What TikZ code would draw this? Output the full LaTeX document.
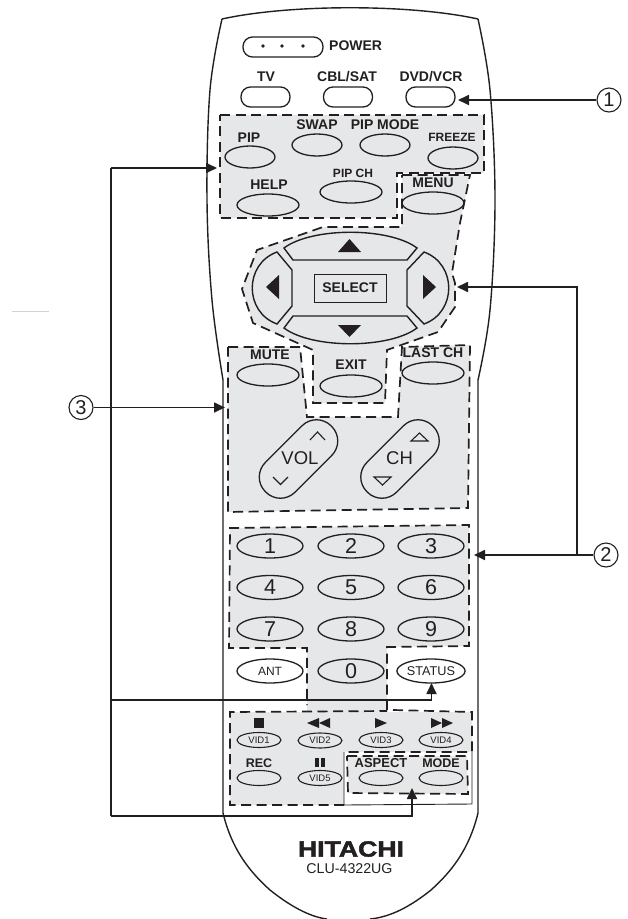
\documentclass[tikz,border=0pt]{standalone}
\usepackage{fontspec}
\setmainfont{Liberation Sans}
\usetikzlibrary{shapes.geometric,arrows.meta}
\definecolor{ink}{HTML}{231F20}
\definecolor{panel}{HTML}{E6E7E8}
\newcommand{\fs}[1]{\fontsize{#1}{#1}\selectfont}
\tikzset{
  line/.style={draw=ink,line width=1.4pt},
  zone/.style={fill=panel,draw=none},
  dash line/.style={draw=ink,line width=1.7pt,dash pattern=on 10pt off 5.5pt},
  btn/.style={ellipse,draw=ink,line width=1.3pt,minimum width=62pt,minimum height=22pt,inner sep=0pt,text=ink},
  small btn/.style={btn,minimum width=50pt,minimum height=22pt},
  num btn/.style={btn,minimum width=66pt,minimum height=24pt,font=\fs{21.5}},
  vid btn/.style={btn,line width=1.1pt,minimum width=44pt,minimum height=15pt,font=\fs{9.5}},
  key/.style={draw=ink,line width=1.3pt,rounded corners=9.5pt,minimum width=49pt,minimum height=20pt,inner sep=0pt},
  lab/.style={font=\fs{14}\bfseries,text=ink,inner sep=0pt},
  lab small/.style={font=\fs{12.5}\bfseries,text=ink,inner sep=0pt},
  rocker/.style={draw=ink,line width=1.3pt,rounded corners=20.5pt,minimum width=93pt,minimum height=42pt,inner sep=0pt,rotate=45},
  big/.style={font=\fs{18.5},text=ink,inner sep=0pt},
  solid mark/.style={fill=ink,draw=none},
  callout/.style={circle,draw=ink,line width=1.1pt,minimum size=24pt,inner sep=0pt,font=\fs{20},text=ink},
  arr/.style={draw=ink,line width=1.7pt,-{Triangle[length=11pt,width=10pt]}},
  wire/.style={draw=ink,line width=1.7pt},
}
\begin{document}
\begin{tikzpicture}[x=1pt,y=-1pt]
\useasboundingbox (0,0) rectangle (627,919);
% faint mark
\draw[gray!35,line width=0.6pt] (12,311) -- (49,311);
% remote body
\draw[line] (222,19) .. controls (290,4) and (410,4) .. (478,19);
\draw[line] plot[smooth,tension=0.6] coordinates {(222,19)(210,90)(207,200)(212,300)(223,380)};
\draw[line] plot[smooth,tension=0.6] coordinates {(478,19)(490,90)(495,200)(490,310)(478,380)};
\draw[line] (223,380) -- (223,813) .. controls (232,850) and (250,872) .. (270,890) .. controls (290,906) and (310,917) .. (327,919);
\draw[line] (478,380) -- (478,813) .. controls (469,850) and (451,872) .. (431,890) .. controls (411,906) and (391,917) .. (370,919);
% gray zones
\path[zone] (220,115) -- (484,115) -- (484,173) -- (397,173) -- (397,218) -- (220,218) -- cycle;
\path[zone] (402,175) -- (470,175) -- (460,223) -- (452,273) -- (455,283) -- (455,307) -- (438,332) -- (387,350) -- (385,403) -- (313,403) -- (313,350) -- (253,323) -- (242,289) -- (257,250) -- (323,227) -- (402,227) -- cycle;
\path[zone] (228,347) -- (300,347) -- (307,417) -- (398,417) -- (402,347) -- (470,345) -- (468,508) -- (228,512) -- cycle;
\path[zone] (230,528) -- (469,525) -- (469,646) -- (387,647) -- (387,712) -- (472,712) -- (472,752) -- (344,752) -- (344,805) -- (230,805) -- (230,712) -- (307,712) -- (307,648) -- (229,648) -- cycle;
\path[zone] (347,756) -- (467,756) -- (468,794) -- (348,793) -- cycle;
% dashed outlines
\draw[dash line] (220,115) -- (484,115) -- (484,173) -- (397,173) -- (397,218) -- (220,218) -- cycle;
\draw[dash line] (402,175) -- (470,175) -- (460,223) -- (452,273) -- (455,283) -- (455,307) -- (438,332) -- (387,350) -- (385,403) -- (313,403) -- (313,350) -- (253,323) -- (242,289) -- (257,250) -- (323,227) -- (402,227) -- cycle;
\draw[dash line] (228,347) -- (300,347) -- (307,417) -- (398,417) -- (402,347) -- (470,345) -- (468,508) -- (228,512) -- cycle;
\draw[dash line] (387,710) -- (387,647) -- (469,646) -- (469,525) -- (230,528) -- (229,648) -- (307,648) -- (307,705);
\draw[dash line] (393,710) -- (472,712) -- (472,752) -- (344,752);
\draw[dash line] (344,805) -- (230,805) -- (230,712) -- (387,711);
\draw[dash line] (347,756) -- (467,756) -- (468,794) -- (348,793) -- cycle;
\draw[draw=ink,line width=0.9pt] (344,752) -- (344,805) -- (472,804) -- (472,752);
% power and source keys
\node[key,minimum width=80pt] (power) at (283,47) {};
\foreach \i/\x in {1/263,2/282,3/303} \fill[ink] (\x,46) circle (1.9pt);
\node[lab,anchor=west] (powerlab) at (329,46) {POWER};
\node[key] (tv) at (265.5,97) {};
\node[key] (cbl) at (348,97) {};
\node[key] (dvd) at (430.5,97) {};
\node[lab] (tvlab) at (266,77) {TV};
\node[lab] (cbllab) at (347,77) {CBL/SAT};
\node[lab] (dvdlab) at (431,77) {DVD/VCR};
% PIP group
\node[small btn] (pip) at (250,157) {};
\node[small btn] (swap) at (317,145) {};
\node[small btn] (pipmode) at (385,145) {};
\node[small btn] (freeze) at (453,158) {};
\node[btn] (help) at (268,205) {};
\node[btn] (pipch) at (351,192) {};
\node[btn] (menu) at (433,203) {};
\node[lab] (piplab) at (249,138) {PIP};
\node[lab] (swaplab) at (317,125) {SWAP};
\node[lab] (pipmodelab) at (385,125) {PIP MODE};
\node[lab small,font=\fs{12}\bfseries] (freezelab) at (452,137) {FREEZE};
\node[lab] (helplab) at (269,185) {HELP};
\node[lab small,font=\fs{12}\bfseries] (pipchlab) at (353,173) {PIP CH};
\node[lab] (menulab) at (433,183) {MENU};
% D-pad
\draw[line] (284,248) .. controls (312,227) and (389,227) .. (417,248) -- (407,260) -- (293,260) -- cycle;
\draw[line] (284,328) .. controls (312,349) and (389,349) .. (417,328) -- (407,316) -- (293,316) -- cycle;
\draw[line] (277,252) .. controls (244,264) and (244,312) .. (277,324) -- (292,306) -- (292,270) -- cycle;
\draw[line] (424,252) .. controls (457,264) and (457,312) .. (424,324) -- (407,306) -- (407,270) -- cycle;
\fill[solid mark] (349.5,239) -- (338,252) -- (361,252) -- cycle;
\fill[solid mark] (338,325) -- (361,325) -- (349.5,337) -- cycle;
\fill[solid mark] (279,275) -- (266,287) -- (279,299) -- cycle;
\fill[solid mark] (423,275) -- (436,287) -- (423,299) -- cycle;
\node[lab,draw=ink,line width=1pt,minimum width=72pt,minimum height=28pt] (select) at (350,288) {SELECT};
% mute, exit, last
\node[btn] (mute) at (268,375) {};
\node[btn] (exit) at (351,386) {};
\node[btn] (last) at (433,373) {};
\node[lab] (mutelab) at (270,355) {MUTE};
\node[lab] (exitlab) at (351,365) {EXIT};
\node[lab] (lastlab) at (433,353) {LAST CH};
% rockers
\node[rocker] (vol) at (298.5,459) {};
\node[rocker] (ch) at (400,459) {};
\node[big] (vollab) at (300,458) {VOL};
\node[big] (chlab) at (399.5,458) {CH};
\draw[line,line width=1.1pt] (310,440) -- (317.5,432) -- (325,440);
\draw[line,line width=1.1pt] (273,477) -- (280.5,484.5) -- (288,477);
\draw[line,line width=1.1pt] (411,441) -- (419.5,433) -- (428,441) -- cycle;
\draw[line,line width=1.1pt] (374,477) -- (382.5,485) -- (391,477) -- cycle;
% number pad
\node[num btn] (n1) at (270,546) {1};
\node[num btn] (n2) at (351,546) {2};
\node[num btn] (n3) at (431,546) {3};
\node[num btn] (n4) at (270,587.5) {4};
\node[num btn] (n5) at (351,587.5) {5};
\node[num btn] (n6) at (431,587.5) {6};
\node[num btn] (n7) at (270,629) {7};
\node[num btn] (n8) at (351,629) {8};
\node[num btn] (n9) at (431,629) {9};
\node[num btn,font=\fs{12}] (ant) at (270,671) {ANT};
\node[num btn] (n0) at (351,671) {0};
\node[num btn,font=\fs{12.7}] (status) at (431,671) {STATUS};
% transport
\node[vid btn] (v1) at (259,740) {VID1};
\node[vid btn] (v2) at (320,740.5) {VID2};
\node[vid btn] (v3) at (381,740) {VID3};
\node[vid btn] (v4) at (441,740) {VID4};
\node[vid btn] (rec) at (259,778) {};
\node[vid btn] (v5) at (320,778) {VID5};
\node[vid btn] (aspect) at (381,778) {};
\node[vid btn] (mode) at (441,778) {};
\node[lab small] (reclab) at (259,763.5) {REC};
\node[lab small,font=\fs{13}\bfseries] (aspectlab) at (381,763.5) {ASPECT};
\node[lab small] (modelab) at (441,763.5) {MODE};
\fill[solid mark] (254,718) rectangle (263.5,727.5);
\fill[solid mark] (307,723) -- (319,718) -- (319,728) -- cycle;
\fill[solid mark] (319,723) -- (330,718) -- (330,728) -- cycle;
\fill[solid mark] (375,718) -- (375,728) -- (387,723) -- cycle;
\fill[solid mark] (431,718) -- (431,728) -- (442,723) -- cycle;
\fill[solid mark] (442,718) -- (442,728) -- (453,723) -- cycle;
\fill[solid mark] (315,758) rectangle (319,767);
\fill[solid mark] (321,758) rectangle (325,767);
% brand
\newfontfamily\brandfont[FakeBold=2]{Liberation Sans Bold}
\node[font=\fs{22}\brandfont,text=ink,inner sep=0pt,xscale=1.21] (brand) at (351,849) {HITACHI};
\node[font=\fs{14.2},text=ink,inner sep=0pt] (model) at (349.5,869) {CLU-4322UG};
% callouts
\node[callout] (c1) at (609,100) {1};
\node[callout] (c2) at (606,555) {2};
\node[callout] (c3) at (81,407.5) {3};
\coordinate (t1) at (458,100);
\coordinate (t2a) at (457,287);
\coordinate (t2b) at (474,555);
\coordinate (j2) at (577,555);
\coordinate (t3a) at (225,407.5);
\coordinate (t3b) at (217,168);
\coordinate (t3c) at (431.5,683);
\coordinate (t3d) at (412,788);
\coordinate (l3a) at (111,168);
\coordinate (l3b) at (111,700);
\coordinate (l3c) at (111,816);
\draw[arr] (c1) -- (t1);
\draw[arr] (c2) -- (t2b);
\draw[arr] (j2) |- (t2a);
\draw[arr] (c3) -- (t3a);
\draw[wire] (l3a) -- (l3c);
\draw[arr] (l3a) -- (t3b);
\draw[arr] (l3b) -| (t3c);
\draw[arr] (l3c) -| (t3d);
\end{tikzpicture}
\end{document}
